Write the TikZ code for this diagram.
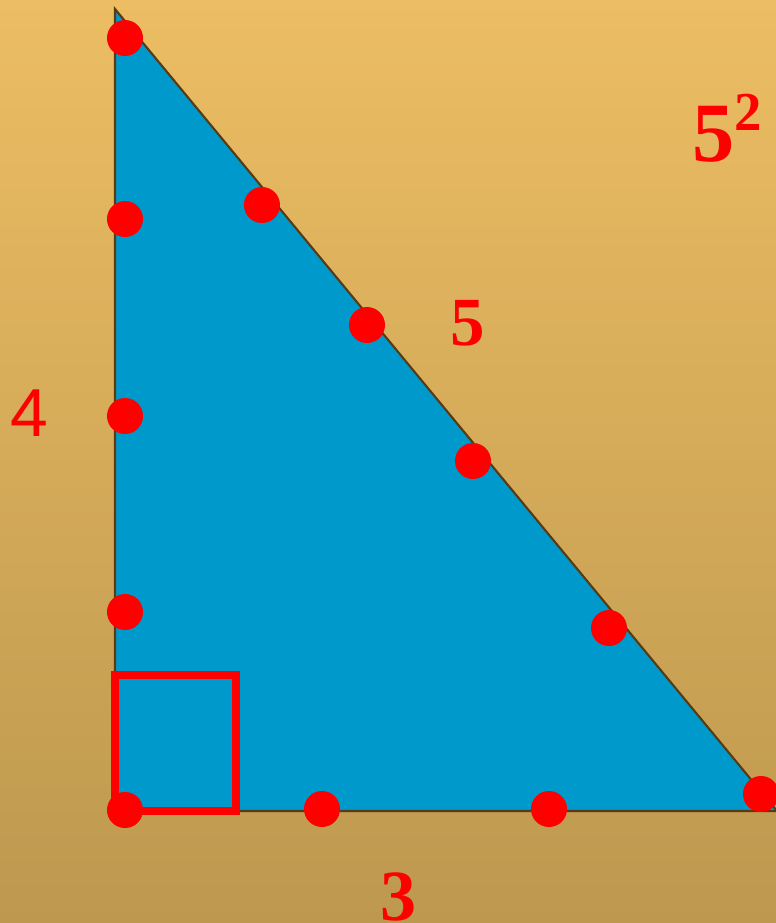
\documentclass[tikz,border=0pt]{standalone}
\usepackage{fontspec}
\setmainfont{Liberation Serif}
\newfontfamily\sansdigits{Liberation Sans}
\usepackage{xcolor}
\usepackage{tikz}
\definecolor{sandtop}{HTML}{ECBD63}
\definecolor{sandbottom}{HTML}{BD984F}
\definecolor{seablue}{HTML}{0099CC}
\definecolor{edgebrown}{HTML}{5A3A12}

\begin{document}
\begin{tikzpicture}[
    x=0.01cm, y=-0.01cm, % coordenadas em pixels, y para baixo
    dot/.style={
        circle,
        fill=red,
        inner sep=0pt,
        minimum size=0.36cm
    },
    sidelabel/.style={
        text=red,
        inner sep=0pt,
        font=\bfseries\fontsize{20}{20}\selectfont
    }
]
% --- Fundo ---
\shade[top color=sandtop, bottom color=sandbottom] (0,0) rectangle (776,923);
\useasboundingbox (0,0) rectangle (776,923);

% Vértices do triângulo
\coordinate (A) at (115,9);
\coordinate (B) at (115,811);
\coordinate (C) at (777,811);
\filldraw[fill=seablue, draw=edgebrown, line width=0.6pt] (A) -- (B) -- (C) -- cycle;

% Marca do ângulo reto
\coordinate (R1) at (115,675);
\coordinate (R2) at (236,811);
\draw[red, line width=2.3pt] (R1) rectangle (R2);

% Pontos no cateto vertical
\node[dot] (L1) at (125,38) {};
\node[dot] (L2) at (125,219) {};
\node[dot] (L3) at (125,416) {};
\node[dot] (L4) at (125,612) {};
\node[dot] (L5) at (125,810) {};

% Pontos no cateto horizontal
\node[dot] (H1) at (322,809) {};
\node[dot] (H2) at (549,809) {};

% Pontos na hipotenusa
\node[dot] (D1) at (262,205) {};
\node[dot] (D2) at (367,325) {};
\node[dot] (D3) at (473,461) {};
\node[dot] (D4) at (609,628) {};
\node[dot] (D5) at (761,794) {};

% Rótulos
\node[sidelabel, font=\sansdigits\fontsize{19.3}{20}\selectfont] (four) at (29.5,413.5) {4};
\node[sidelabel, font=\bfseries\fontsize{19.6}{20}\selectfont] (five) at (467.5,323) {5};
\node[sidelabel, font=\bfseries\fontsize{20.5}{21}\selectfont] (three) at (398.5,897) {3};
\node[sidelabel, anchor=base west, font=\bfseries\fontsize{24}{24}\selectfont] (square) at (692,161.7)
    {5\raisebox{9pt}{\fontsize{15.6}{16}\selectfont 2}};

\end{tikzpicture}
\end{document}
